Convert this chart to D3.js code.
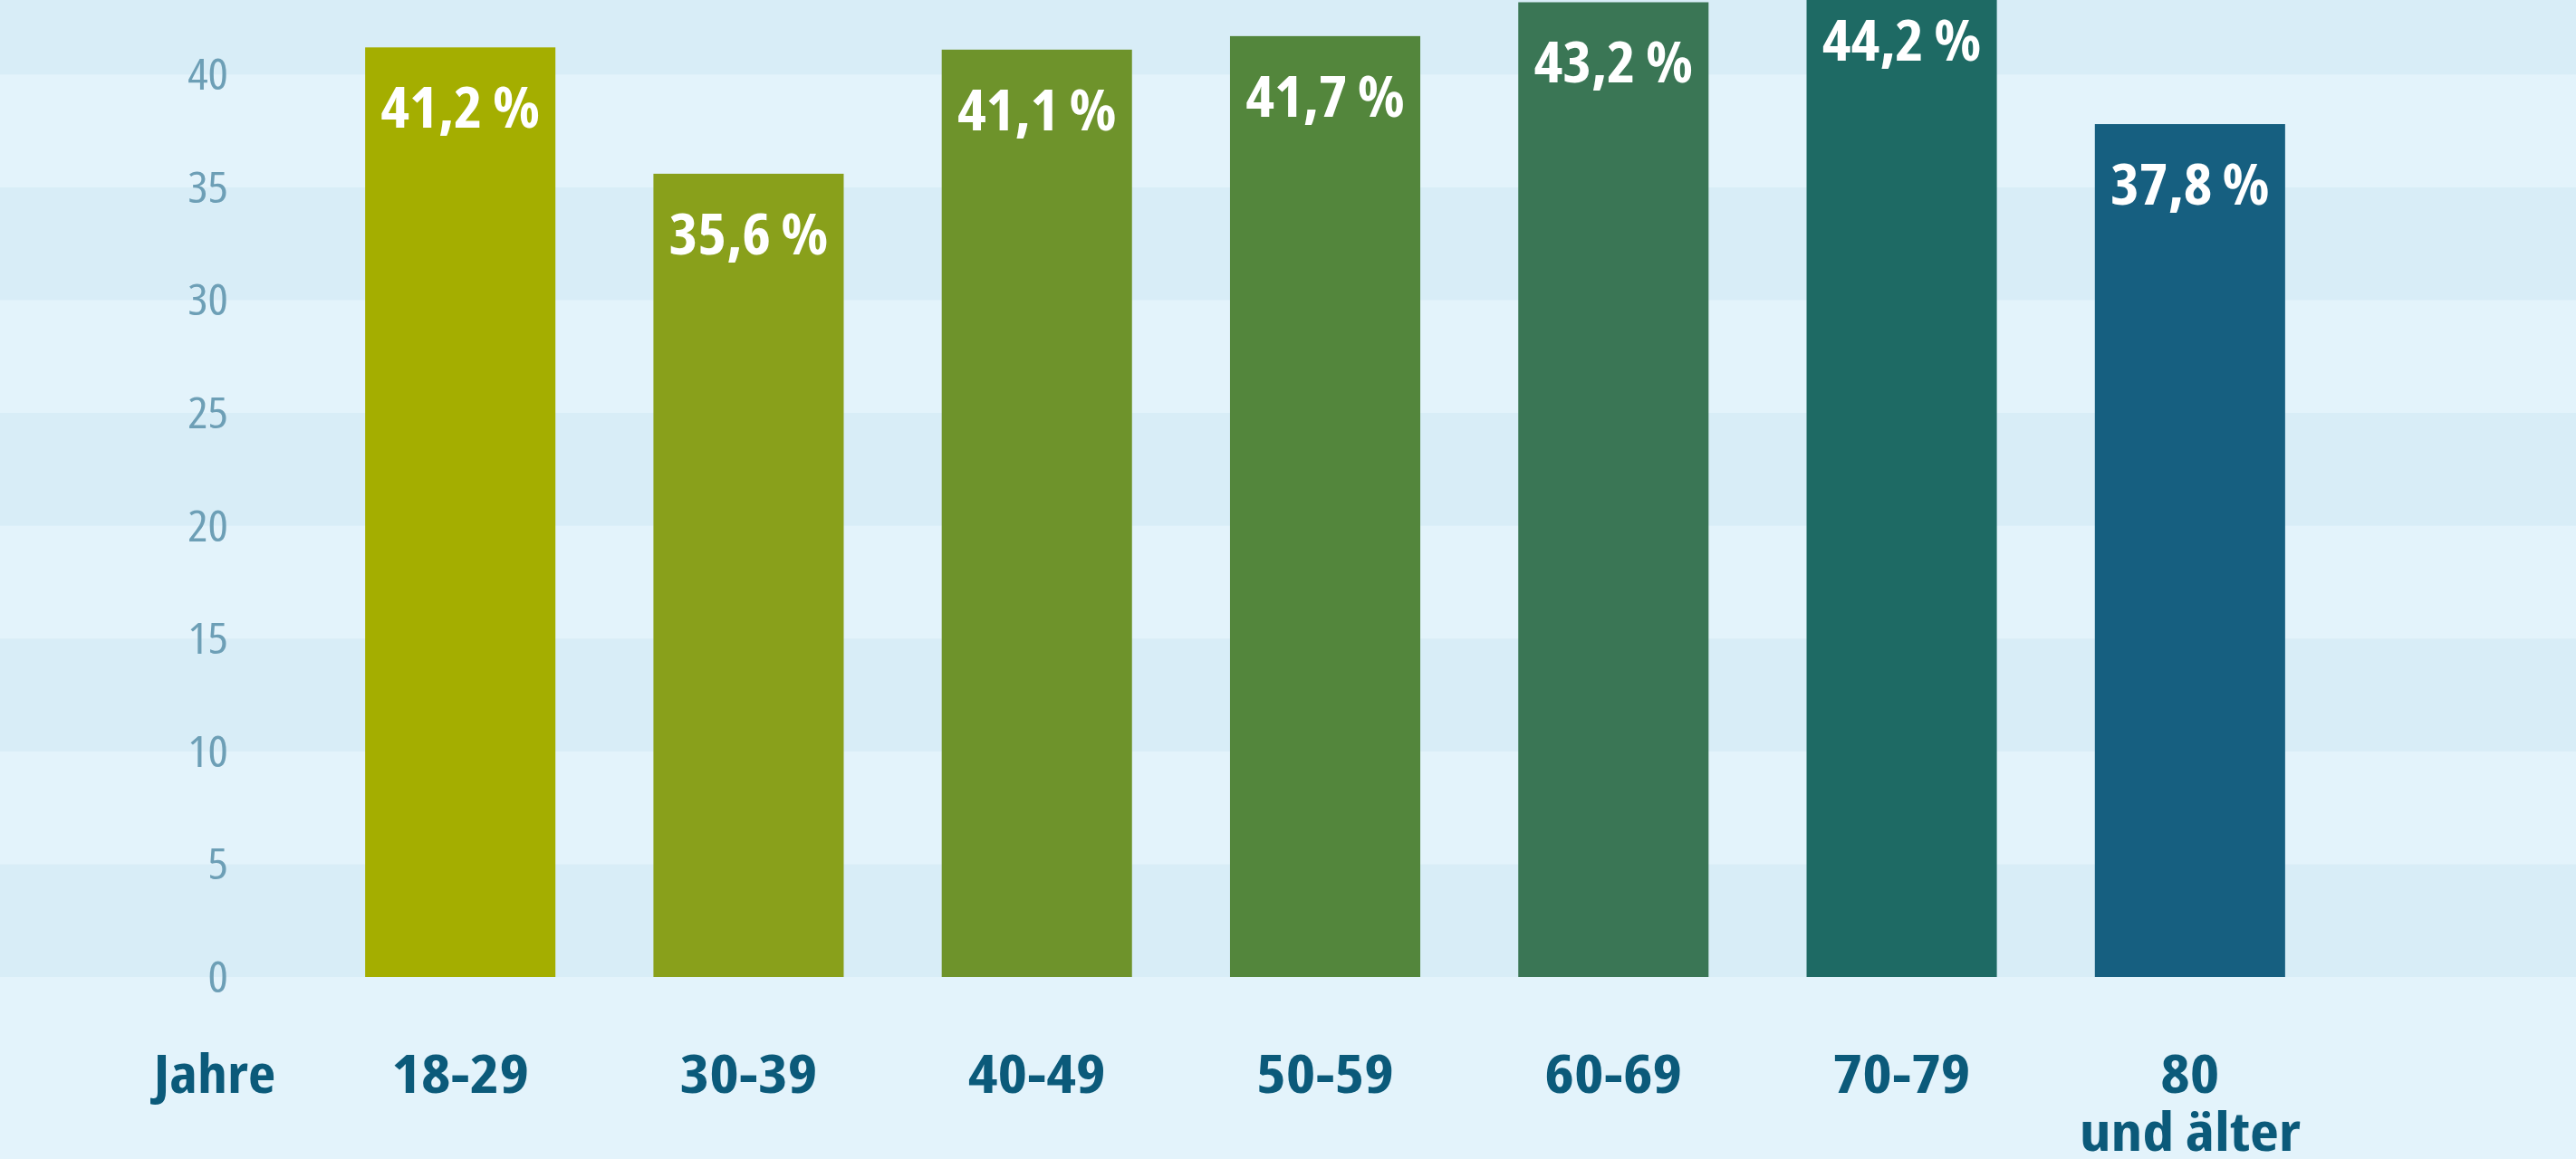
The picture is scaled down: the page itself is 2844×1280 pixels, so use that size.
<!DOCTYPE html>
<meta charset="utf-8">
<style>
    body { margin: 0; background: #e3f3fb; }
    svg { display: block; }
    text { font-family: "Open Sans", "Noto Sans", sans-serif; font-stretch: condensed; }
    .tick text { fill: #6d9fb6; font-size: 47px; }
    .cat { fill: #0b5a7a; font-size: 59px; font-weight: 700; }
    .val { fill: #ffffff; font-size: 62px; font-weight: 700; }
</style>
<body>
<script src="https://cdn.jsdelivr.net/npm/d3@7"></script>
<script>
var categories = ["18-29", "30-39", "40-49", "50-59", "60-69", "70-79", "80|und älter"];
var values = [41.2, 35.6, 41.1, 41.7, 43.2, 44.2, 37.8];
var valueLabels = ["41,2\u2009%", "35,6\u2009%", "41,1\u2009%", "41,7\u2009%", "43,2\u2009%", "44,2\u2009%", "37,8\u2009%"];
var barColors = ["#a4ae00", "#89a01b", "#6e932b", "#53863c", "#3a7655", "#1e6a64", "#165f80"];
var yTicks = [0, 5, 10, 15, 20, 25, 30, 35, 40];
var bandEdges = [0, 5, 10, 15, 20, 25, 30, 35, 40, 45];

var width = 2844, height = 1280;

var svg = d3.select("body").append("svg")
    .attr("width", width)
    .attr("height", height);

var y = d3.scaleLinear().domain([0, 43.3]).range([1079, 0]);
var x = d3.scaleBand()
    .domain(categories)
    .range([244, 2682])
    .paddingInner(0.34)
    .paddingOuter(0.5);

// alternating background stripes
svg.selectAll(".band")
    .data(bandEdges.slice(0, -1))
    .enter()
    .append("rect")
    .attr("class", "band")
    .attr("x", 0)
    .attr("width", width)
    .attr("y", function(d) { return y(d + 5); })
    .attr("height", function(d) { return y(d) - y(d + 5); })
    .style("fill", function(d, i) { return i % 2 == 0 ? "#d8edf7" : "#e3f3fb"; });

// bars
svg.selectAll(".bar")
    .data(values)
    .enter()
    .append("rect")
    .attr("class", "bar")
    .attr("x", function(d, i) { return x(categories[i]); })
    .attr("width", x.bandwidth())
    .attr("y", function(d) { return y(d); })
    .attr("height", function(d) { return y(0) - y(d); })
    .style("fill", function(d, i) { return barColors[i]; });

// value labels inside bars (condensed font stretched a bit wider)
svg.selectAll(".val")
    .data(values)
    .enter()
    .append("text")
    .attr("class", "val")
    .attr("transform", function(d, i) {
        return "translate(" + (x(categories[i]) + x.bandwidth() / 2) + "," + (y(d) + 89) + ") scale(1.09,1)";
    })
    .style("text-anchor", "middle")
    .text(function(d, i) { return valueLabels[i]; });

// y axis
var yAxis = svg.append("g")
    .attr("transform", "translate(252,0)")
    .call(d3.axisLeft(y).tickValues(yTicks).tickSize(0).tickPadding(0));
yAxis.select(".domain").remove();
yAxis.selectAll("text").attr("dy", "0.35em").attr("transform", "scale(1.12,1)");

// category labels
var cat = svg.selectAll(".cat")
    .data(categories)
    .enter()
    .append("text")
    .attr("class", "cat")
    .attr("transform", function(d) {
        return "translate(" + (x(d) + x.bandwidth() / 2) + ",1207) scale(1.18,1)";
    })
    .style("text-anchor", "middle");
cat.each(function(d) {
    var lines = d.split("|");
    var t = d3.select(this);
    lines.forEach(function(l, i) {
        t.append("tspan")
            .attr("x", 0)
            .attr("dy", i == 0 ? 0 : 64)
            .text(l);
    });
});

svg.append("text")
    .attr("class", "cat")
    .attr("transform", "translate(237,1207) scale(1.12,1)")
    .style("text-anchor", "middle")
    .text("Jahre");
</script>
</body>
